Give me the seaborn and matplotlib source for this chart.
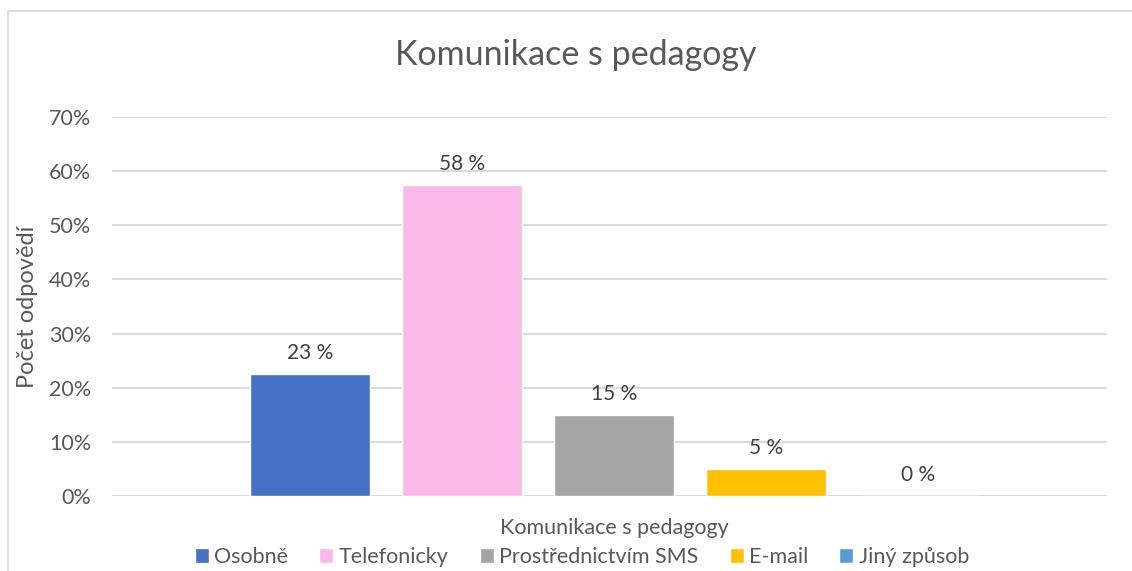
import matplotlib
matplotlib.use('Agg')
import matplotlib.pyplot as plt
import seaborn as sns
import pandas as pd
from matplotlib.patches import Rectangle
from matplotlib.ticker import PercentFormatter

# Data
kategorie = ["Komunikace s pedagogy"]
zpusoby = ["Osobně", "Telefonicky", "Prostřednictvím SMS", "E-mail", "Jiný způsob"]
podily = [0.225, 0.575, 0.15, 0.05, 0.0]
barvy = ["#4472C4", "#FBB8E9", "#A5A5A5", "#FFC000", "#5B9BD5"]

df = pd.DataFrame({
    "kategorie": kategorie * len(zpusoby),
    "zpusob": zpusoby,
    "podil": podily,
})

sns.set_theme(style="white")
plt.rcParams['font.family'] = ['Lato', 'DejaVu Sans']
text_col = "#595959"
grid_col = "#D9D9D9"

fig = plt.figure(figsize=(11.32, 5.71), dpi=100)
ax = fig.add_axes([112/1132, 1 - 496/571, (1107 - 112)/1132, (496 - 117)/571])

sns.barplot(data=df, x="kategorie", y="podil", hue="zpusob", hue_order=zpusoby,
            palette=barvy, saturation=1, width=0.764, gap=0.21, ax=ax, legend=True)

# Popisky hodnot (zaokrouhleni nahoru od poloviny jako v Excelu)
for cont, v in zip(ax.containers, podily):
    ax.bar_label(cont, labels=[f"{int(v * 100 + 0.5 + 1e-9)} %"], padding=8,
                 fontsize=15, color="#404040")

ax.set_xlim(-0.5045, 0.4955)
ax.set_ylim(0, 0.7)
ax.set_yticks([i / 10 for i in range(8)])
ax.yaxis.set_major_formatter(PercentFormatter(1.0, decimals=0))
ax.yaxis.grid(True, color=grid_col, linewidth=1.4)
ax.set_axisbelow(True)
for s in ax.spines.values():
    s.set_visible(False)
ax.tick_params(axis='both', length=0, labelsize=15.5, colors=text_col)
ax.tick_params(axis='y', pad=15)
ax.tick_params(axis='x', pad=16)
ax.set_xlabel("")
ax.set_ylabel("Počet odpovědí", fontsize=17, color=text_col, labelpad=8)

# Legenda dole
handles, labels = ax.get_legend_handles_labels()
ax.get_legend().remove()
leg = fig.legend(handles, labels, loc='center', bbox_to_anchor=(582/1132, 1 - 557/571),
                 ncol=5, frameon=False, fontsize=15.5, handlelength=0.65, handleheight=0.65,
                 handletextpad=0.25, columnspacing=1.45, labelcolor=text_col)

# Nadpis
fig.text(576/1132, 1 - 55/571, "Komunikace s pedagogy", ha='center', va='center',
         fontsize=24.5, color=text_col)

# Rámeček grafu
fig.patches.append(Rectangle((8/1132, -0.1), 1.2, 1 - 11/571 + 0.1, transform=fig.transFigure,
                             fill=False, edgecolor=grid_col, linewidth=1.2))

fig.savefig("out.png", dpi=100)
